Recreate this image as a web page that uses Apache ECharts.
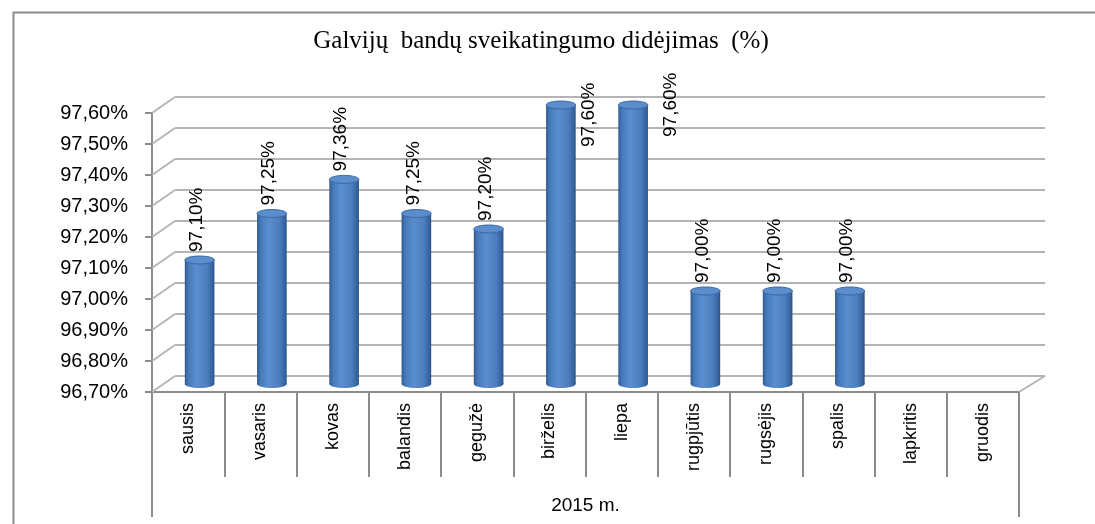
<!DOCTYPE html>
<html>
<head>
<meta charset="utf-8">
<script src="https://cdn.jsdelivr.net/npm/echarts@6/dist/echarts.min.js"></script>
<style>
  html, body { margin: 0; padding: 0; background: #fff; }
  #main { width: 1095px; height: 524px; }
</style>
</head>
<body>
<div id="main"></div>
<script>
const titleText = 'Galvijų  bandų sveikatingumo didėjimas  (%)';
const categories = ['sausis', 'vasaris', 'kovas', 'balandis', 'gegužė', 'birželis',
  'liepa', 'rugpjūtis', 'rugsėjis', 'spalis', 'lapkritis', 'gruodis'];
const groupLabels = ['2015 m.'];
const values = [97.10, 97.25, 97.36, 97.25, 97.20, 97.60, 97.60, 97.00, 97.00, 97.00, null, null];
const yTicks = [96.7, 96.8, 96.9, 97.0, 97.1, 97.2, 97.3, 97.4, 97.5, 97.6];

const yMin = yTicks[0];
const yMax = yTicks[yTicks.length - 1];

// front plane and back wall of the fake 3D box
const FRONT = { left: 152, right: 76, top: 113, bottom: 132 };
const BACK = { left: 175, right: 50, top: 97, bottom: 148 };
const W = 1095;
const depthX = BACK.left - FRONT.left;
const depthY = FRONT.top - BACK.top;

const gridColor = '#b4b4b4';
const axisColor = '#8c8c8c';
const font = '"Liberation Sans", Arial, sans-serif';

// labels that hit the top of the plot are pushed beside the bar
const labelNudge = { 5: [28, 42], 6: [38, 32] };

const fmt = v => v.toFixed(2).replace('.', ',') + '%';

function renderWall(params, api) {
  const cs = params.coordSys;
  const y = api.coord([0, api.value(1)])[1];
  const children = [{
    type: 'line',
    shape: { x1: cs.x, y1: y, x2: BACK.left, y2: y - depthY },
    style: { stroke: gridColor, lineWidth: 2, fill: null }
  }];
  if (params.dataIndex === 0) {
    // right edge of the floor
    children.push({
      type: 'line',
      shape: { x1: cs.x + cs.width, y1: y, x2: W - BACK.right, y2: y - depthY },
      style: { stroke: gridColor, lineWidth: 2, fill: null }
    });
  }
  return { type: 'group', children: children };
}

function renderCylinder(params, api) {
  const i = api.value(0);
  const v = values[i];
  if (v == null) return;
  const top = api.coord([i, v]);
  const bot = api.coord([i, yMin]);
  const w = api.size([1, 0])[0] * 0.41;
  const rx = w / 2, ry = 4;
  const cx = top[0] + depthX / 2;
  const yt = top[1] - depthY / 2;
  const yb = bot[1] - depthY / 2;
  const bodyFill = {
    type: 'linear', x: 0, y: 0, x2: 1, y2: 0,
    colorStops: [
      { offset: 0, color: '#2e5a8f' },
      { offset: 0.12, color: '#4679b8' },
      { offset: 0.4, color: '#5a8ed0' },
      { offset: 0.75, color: '#4c7ebd' },
      { offset: 0.92, color: '#3864a2' },
      { offset: 1, color: '#2b5387' }
    ]
  };
  let lx = cx - 3, ly = yt - 8;
  if (labelNudge[i]) {
    lx = cx + labelNudge[i][0];
    ly = yt + labelNudge[i][1];
  }
  return {
    type: 'group',
    children: [
      { type: 'ellipse', shape: { cx: cx, cy: yb, rx: rx, ry: ry }, style: { fill: bodyFill } },
      { type: 'rect', shape: { x: cx - rx, y: yt, width: w, height: yb - yt }, style: { fill: bodyFill } },
      {
        type: 'ellipse', shape: { cx: cx, cy: yt, rx: rx, ry: ry },
        style: { fill: '#5b8dcc', stroke: '#3a68a3', lineWidth: 1 }
      },
      {
        type: 'text', x: lx, y: ly, rotation: Math.PI / 2,
        style: {
          text: fmt(v), x: 0, y: 0, align: 'left', verticalAlign: 'middle',
          fontSize: 19, fontFamily: font, fill: '#000'
        }
      }
    ]
  };
}

const chart = echarts.init(document.getElementById('main'));

const option = {
  animation: false,
  graphic: [
    {
      type: 'rect', left: 11, top: 10, z: 100,
      shape: { width: 1100, height: 540 },
      style: { fill: null, stroke: axisColor, lineWidth: 2 }
    },
    {
      type: 'text', x: 541, y: 41, z: 100,
      style: {
        text: titleText, align: 'center', verticalAlign: 'middle',
        fontSize: 25, fontFamily: '"Liberation Serif", "Times New Roman", serif', fill: '#000'
      }
    }
  ],
  grid: [
    Object.assign({ outerBoundsMode: 'none', containLabel: false }, FRONT),
    Object.assign({ outerBoundsMode: 'none', containLabel: false }, BACK)
  ],
  xAxis: [
    {
      type: 'category', gridIndex: 0, position: 'bottom', offset: 0,
      data: categories,
      axisLine: { lineStyle: { color: axisColor, width: 2 } },
      axisTick: { show: true, interval: 0, length: 85, lineStyle: { color: axisColor, width: 2 } },
      axisLabel: { interval: 0, rotate: 90, margin: 11, fontSize: 18, fontFamily: font, color: '#000' },
      splitLine: { show: false }
    },
    {
      type: 'category', gridIndex: 0, position: 'bottom', offset: 0,
      data: groupLabels,
      axisLine: { show: false },
      axisTick: { show: true, length: 125, lineStyle: { color: axisColor, width: 2 } },
      axisLabel: { margin: 104, fontSize: 19, fontFamily: font, color: '#000' },
      splitLine: { show: false }
    },
    { type: 'value', gridIndex: 1, show: false }
  ],
  yAxis: [
    {
      type: 'value', gridIndex: 0, min: yMin, max: yMax, interval: 0.1,
      axisLine: { show: true, lineStyle: { color: axisColor, width: 2 } },
      axisTick: { show: true, length: 7, lineStyle: { color: axisColor, width: 2 } },
      axisLabel: { margin: 24, fontSize: 20, fontFamily: font, color: '#000', formatter: fmt },
      splitLine: { show: false }
    },
    {
      type: 'value', gridIndex: 1, min: yMin, max: yMax, interval: 0.1,
      axisLine: { show: false }, axisTick: { show: false }, axisLabel: { show: false },
      splitLine: { show: true, lineStyle: { color: gridColor, width: 2 } }
    }
  ],
  series: [
    {
      type: 'custom', xAxisIndex: 0, yAxisIndex: 0,
      data: yTicks.map(t => [0, t]),
      renderItem: renderWall, z: 1, silent: true
    },
    {
      type: 'custom', xAxisIndex: 0, yAxisIndex: 0,
      data: values.map((v, i) => [i, v == null ? yMin : v]),
      renderItem: renderCylinder, z: 3, clip: false
    }
  ]
};

chart.setOption(option);
</script>
</body>
</html>
